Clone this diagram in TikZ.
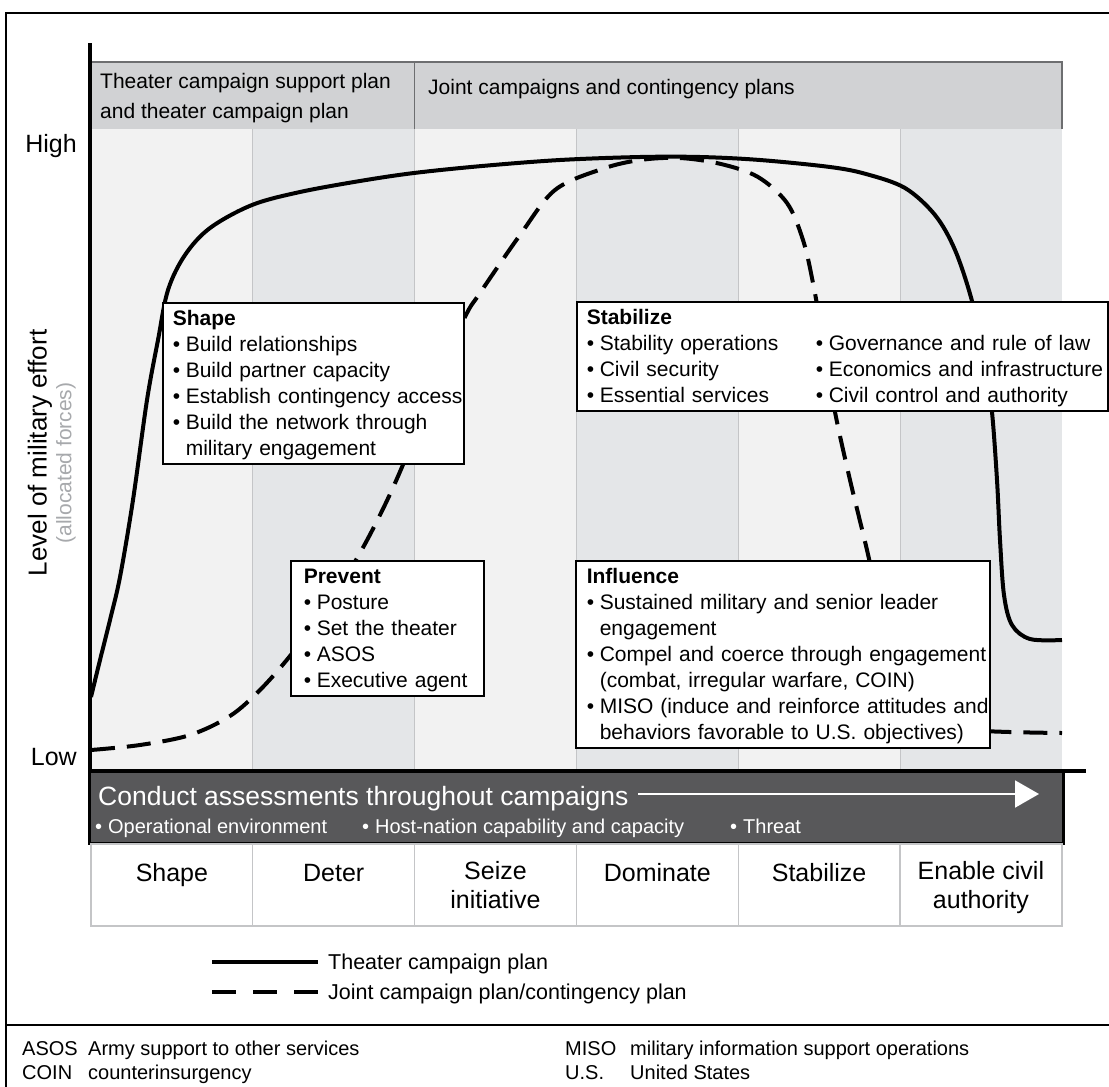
\documentclass[tikz,border=0pt]{standalone}
\usepackage{fontspec}
\setmainfont{Liberation Sans}
\usetikzlibrary{arrows.meta}
\definecolor{colLight}{HTML}{F2F2F2}
\definecolor{colDark}{HTML}{E4E6E8}
\definecolor{hdrGray}{HTML}{D1D2D4}
\definecolor{hdrLine}{HTML}{6D6E70}
\definecolor{gridGray}{HTML}{C4C5C7}
\definecolor{barFill}{HTML}{58585A}
\definecolor{subGray}{HTML}{A7A9AC}
\newcommand{\itm}[1]{\mbox{\makebox[13pt][l]{\textbullet}#1}}
\newcommand{\contline}[1]{\mbox{\hspace*{13pt}#1}}

\begin{document}
\begin{tikzpicture}
  [x=1pt,y=-1pt,
   notebox/.style={draw,fill=white,line width=1.6pt,anchor=north west,align=left,inner ysep=4.3pt,
     font=\fontsize{21}{26}\selectfont,execute at begin node=\strut},
   phase/.style={anchor=north,align=center,inner sep=0pt,font=\fontsize{25}{29}\selectfont,execute at begin node=\strut},
   hdr/.style={anchor=north west,align=left,inner xsep=9pt,inner ysep=0pt,font=\fontsize{21}{30}\selectfont,execute at begin node=\strut},
   txt/.style={anchor=base west,inner sep=0pt,font=\fontsize{20}{24}\selectfont},
   tcp/.style={line width=4pt},
   jcp/.style={line width=4pt,dash pattern=on 24pt off 12pt}]

  \fill[white] (0,0) rectangle (1109,1087);
  \useasboundingbox (0,0) rectangle (1109,1087);

  % phase columns
  \foreach \i/\c in {0/colLight,1/colDark,2/colLight,3/colDark,4/colLight,5/colDark}
    \fill[\c] ({91+\i*161.8},129) rectangle ({252.8+\i*161.8},771);
  \foreach \i in {1,...,5}
    \draw[gridGray,line width=1pt] ({91+\i*161.8},129) -- ({91+\i*161.8},771);

  % plan header
  \fill[hdrGray] (91,62) rectangle (1062,129);
  \draw[hdrLine,line width=1.2pt] (91,62) -- (1062,62) -- (1062,129);
  \draw[hdrLine,line width=1.2pt] (414.6,62) -- (414.6,129);
  \node[hdr] (tcsphdr) at (91,73) {Theater campaign support plan\\and theater campaign plan};
  \node[hdr] (jointhdr) at (419,73) {Joint campaigns and contingency plans};

  % effort curves
  \draw[tcp] plot[smooth,tension=0.55] coordinates {(91,697) (100,660) (110,620) (120,577) (133,500)
    (147,400) (158,340) (168,290) (185,255) (210,228) (252,205) (300,192) (360,181) (414,173)
    (482,166) (560,160) (640,157) (700,157) (760,160) (830,167) (866,174) (905,188) (935,215)
    (955,250) (972,301) (985,360) (992,412) (997,480) (1000,540) (1004,595) (1012,625)
    (1030,639) (1062,640)};
  \draw[jcp] plot[smooth,tension=0.55] coordinates {(91,750) (140,745) (190,735) (230,716)
    (260,690) (290,656) (325,610) (356,560) (380,515) (402,467) (435,385) (465,317) (480,293)
    (520,235) (555,190) (602,169) (640,160) (680,158) (721,164) (758,177) (787,203) (803,240)
    (813,283) (825,350) (835,412) (850,480) (867,550) (885,630) (905,690) (930,718) (970,730)
    (1062,733)};

  % task boxes
  \node[notebox,text width=281pt,inner xsep=10pt] (shapebox) at (162,302)
    {\textbf{Shape}\\ \itm{Build relationships}\\ \itm{Build partner capacity}\\
     \itm{Establish contingency access}\\ \itm{Build the network through}\\
     \contline{military engagement}};
  \node[notebox,text width=511pt,inner xsep=10pt] (stabilizebox) at (576,301)
    {\textbf{Stabilize}\\
     \makebox[229pt][l]{\itm{Stability operations}}\itm{Governance and rule of law}\\
     \makebox[229pt][l]{\itm{Civil security}}\itm{Economics and infrastructure}\\
     \makebox[229pt][l]{\itm{Essential services}}\itm{Civil control and authority}};
  \node[notebox,text width=167pt,inner xsep=13pt] (preventbox) at (290,560)
    {\textbf{Prevent}\\ \itm{Posture}\\ \itm{Set the theater}\\ \itm{ASOS}\\ \itm{Executive agent}};
  \node[notebox,text width=392pt,inner xsep=11pt] (influencebox) at (575,560)
    {\textbf{Influence}\\ \itm{Sustained military and senior leader}\\ \contline{engagement}\\
     \itm{Compel and coerce through engagement}\\ \contline{(combat, irregular warfare, COIN)}\\
     \itm{MISO (induce and reinforce attitudes and}\\ \contline{behaviors favorable to U.S. objectives)}};

  % axes
  \draw[line width=4pt] (90,43) -- (90,771);
  \node[rotate=90,font=\fontsize{26}{30}\selectfont] (ylabel) at (40,453) {Level of military effort};
  \node[rotate=90,font=\fontsize{21}{24}\selectfont,text=subGray] (ysub) at (66,463) {(allocated forces)};
  \node[anchor=base east,inner sep=0pt,font=\fontsize{25}{30}\selectfont] (high) at (77,152) {High};
  \node[anchor=base east,inner sep=0pt,font=\fontsize{25}{30}\selectfont] (low) at (77,765) {Low};

  % assessment bar
  \draw[fill=barFill,line width=3pt] (89,771) rectangle (1063,843);
  \draw[line width=4pt] (88,771) -- (1086,771);
  \node[txt,font=\fontsize{26.5}{30}\selectfont,text=white] (assess) at (98,805)
    {Conduct assessments throughout campaigns};
  \coordinate (arrstart) at (638,794);
  \coordinate (arrend) at (1039,794);
  \draw[white,line width=2pt,-{Triangle[length=24pt,width=27pt]}] (arrstart) -- (arrend);
  \node[txt,text=white] (openv) at (95,833) {\itm{Operational environment}};
  \node[txt,text=white] (hostnat) at (362,833) {\itm{Host-nation capability and capacity}};
  \node[txt,text=white] (threat) at (730,833) {\itm{Threat}};

  % phases
  \draw[gridGray,line width=1.2pt] (91,844) rectangle (1062,926);
  \foreach \i in {1,...,5}
    \draw[gridGray,line width=1.2pt] ({91+\i*161.8},844) -- ({91+\i*161.8},926);
  \foreach \i/\t in {0/Shape,1/Deter,2/{Seize\\initiative},3/Dominate,4/Stabilize,5/{Enable civil\\authority}}
    \node[phase] (ph\i) at ({171.9+\i*161.8},861) {\t};

  % legend
  \draw[tcp] (212,962) -- (318,962);
  \draw[line width=4pt,dash pattern=on 24pt off 17pt] (212,992) -- (318,992);
  \node[txt,font=\fontsize{21.5}{26}\selectfont] (legtcp) at (328,969) {Theater campaign plan};
  \node[txt,font=\fontsize{21.5}{26}\selectfont] (legjcp) at (328,999) {Joint campaign plan/contingency plan};

  % frame and glossary
  \draw[line width=2.5pt] (6,1087) -- (6,13) -- (1109,13);
  \draw[line width=2pt] (6,1025) -- (1109,1025);
  \node[txt] (asos) at (22,1055) {ASOS};
  \node[txt] (asosdef) at (88,1055) {Army support to other services};
  \node[txt] (coin) at (22,1079) {COIN};
  \node[txt] (coindef) at (88,1079) {counterinsurgency};
  \node[txt] (miso) at (565,1055) {MISO};
  \node[txt] (misodef) at (630,1055) {military information support operations};
  \node[txt] (us) at (565,1079) {U.S.};
  \node[txt] (usdef) at (630,1079) {United States};

\end{tikzpicture}
\end{document}
